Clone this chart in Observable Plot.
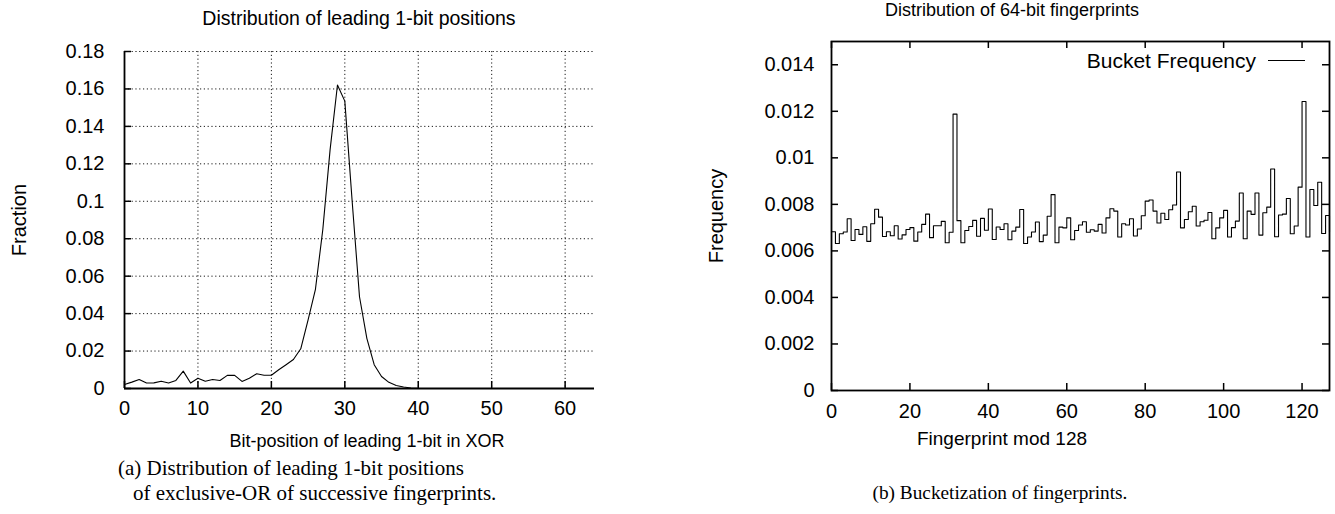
<!DOCTYPE html>
<html>
<head>
<meta charset="utf-8">
<script src="https://cdn.jsdelivr.net/npm/d3@7"></script>
<script src="https://cdn.jsdelivr.net/npm/@observablehq/plot@0.6"></script>
<style>
  html, body { margin: 0; padding: 0; background: #fff; }
  #page { position: relative; width: 1335px; height: 514px; overflow: hidden; background: #fff; }
  .abs { position: absolute; white-space: nowrap; line-height: 1; color: #000; }
  .sans { font-family: "Liberation Sans", Arial, sans-serif; font-size: 20px; }
  .serif { font-family: "Liberation Serif", "Times New Roman", serif; font-size: 21px; }
  .c { transform: translate(-50%, -50%); }
  .rot { transform: translate(-50%, -50%) rotate(-90deg); }
  .plotbox { position: absolute; }
</style>
</head>
<body>
<div id="page"></div>
<script>
// ---------- Data: left chart (leading 1-bit position, index = bit position 0..63) ----------
const leadingFractions = [
  0.0021, 0.0034, 0.0048, 0.0029, 0.0030, 0.0039, 0.0029, 0.0043, 0.0093, 0.0029,
  0.0055, 0.0039, 0.0048, 0.0043, 0.0070, 0.0070, 0.0038, 0.0055, 0.0079, 0.0071,
  0.0071, 0.0100, 0.0127, 0.0155, 0.0212, 0.0366, 0.0530, 0.0848, 0.1277, 0.1621,
  0.1535, 0.1000, 0.0490, 0.0268, 0.0127, 0.0064, 0.0033, 0.0016, 0.0008, 0.0003,
  0.0001, 0, 0, 0, 0, 0, 0, 0, 0, 0,
  0, 0, 0, 0, 0, 0, 0, 0, 0, 0,
  0, 0, 0, 0
];
const leftXTicks = [0, 10, 20, 30, 40, 50, 60];
const leftXTickLabels = ["0", "10", "20", "30", "40", "50", "60"];
const leftYTicks = [0, 0.02, 0.04, 0.06, 0.08, 0.1, 0.12, 0.14, 0.16, 0.18];
const leftYTickLabels = ["0", "0.02", "0.04", "0.06", "0.08", "0.1", "0.12", "0.14", "0.16", "0.18"];

// ---------- Data: right chart (bucket frequency, index = fingerprint mod 128) ----------
const bucketFrequency = [
  0.00682, 0.00632, 0.00674, 0.00681, 0.00738, 0.00645, 0.00692, 0.00671, 0.00704, 0.00641,
  0.00717, 0.00779, 0.00745, 0.00662, 0.00682, 0.00665, 0.00708, 0.00651, 0.00669, 0.00692,
  0.00700, 0.00642, 0.00681, 0.00714, 0.00758, 0.00657, 0.00708, 0.00708, 0.00727, 0.00635,
  0.00680, 0.01188, 0.00730, 0.00635, 0.00688, 0.00705, 0.00731, 0.00663, 0.00740, 0.00689,
  0.00780, 0.00649, 0.00703, 0.00692, 0.00717, 0.00648, 0.00685, 0.00702, 0.00778, 0.00632,
  0.00660, 0.00681, 0.00724, 0.00640, 0.00668, 0.00749, 0.00842, 0.00635, 0.00702, 0.00699,
  0.00742, 0.00648, 0.00688, 0.00711, 0.00725, 0.00680, 0.00691, 0.00685, 0.00714, 0.00677,
  0.00742, 0.00781, 0.00771, 0.00660, 0.00717, 0.00711, 0.00738, 0.00664, 0.00694, 0.00751,
  0.00814, 0.00819, 0.00771, 0.00720, 0.00762, 0.00735, 0.00777, 0.00797, 0.00939, 0.00699,
  0.00735, 0.00768, 0.00792, 0.00707, 0.00725, 0.00732, 0.00765, 0.00652, 0.00699, 0.00742,
  0.00774, 0.00660, 0.00700, 0.00728, 0.00849, 0.00652, 0.00771, 0.00757, 0.00849, 0.00668,
  0.00764, 0.00788, 0.00952, 0.00661, 0.00754, 0.00758, 0.00825, 0.00674, 0.00707, 0.00874,
  0.01242, 0.00660, 0.00864, 0.00795, 0.00895, 0.00675, 0.00752, 0.00680
];
const rightXTicks = [0, 20, 40, 60, 80, 100, 120];
const rightXTickLabels = ["0", "20", "40", "60", "80", "100", "120"];
const rightYTicks = [0, 0.002, 0.004, 0.006, 0.008, 0.01, 0.012, 0.014];
const rightYTickLabels = ["0", "0.002", "0.004", "0.006", "0.008", "0.01", "0.012", "0.014"];

// ---------- Text ----------
const leftTitle = "Distribution of leading 1-bit positions";
const leftXLabel = "Bit-position of leading 1-bit in XOR";
const leftYLabel = "Fraction";
const leftCaption = ["(a) Distribution of leading 1-bit positions", "of exclusive-OR of successive fingerprints."];
const rightTitle = "Distribution of 64-bit fingerprints";
const rightXLabel = "Fingerprint mod 128";
const rightYLabel = "Frequency";
const rightLegend = "Bucket Frequency";
const rightCaption = "(b) Bucketization of fingerprints.";

// ---------- Build ----------
const page = document.getElementById("page");
const FONT = "Liberation Sans, Arial, sans-serif";
const FS = 20;
const labelMap = (ticks, labels) => { const m = new Map(ticks.map((t, i) => [t, labels[i]])); return d => m.get(d) ?? ""; };
const grid = {stroke: "#000", strokeOpacity: 0.9, strokeWidth: 1, strokeDasharray: "1.2,2.6"};

// Left chart
const L = {left: 0, top: 0, width: 640, height: 430, ml: 124, mr: 46, mt: 51, mb: 42};
const LinnerW = L.width - L.ml - L.mr, LinnerH = L.height - L.mt - L.mb;
const leftData = leadingFractions.map((f, i) => ({pos: i, frac: f}));
const leftPlot = Plot.plot({
  width: L.width, height: L.height,
  marginLeft: L.ml, marginRight: L.mr, marginTop: L.mt, marginBottom: L.mb,
  x: {domain: [0, 64], axis: null},
  y: {domain: [0, 0.18], axis: null},
  style: {fontFamily: FONT, fontSize: FS + "px", color: "#000", background: "transparent", overflow: "visible"},
  marks: [
    Plot.gridX({ticks: leftXTicks.filter(d => d > 0), ...grid}),
    Plot.gridY({ticks: leftYTicks.filter(d => d > 0), ...grid}),
    Plot.tickX(leftXTicks, {x: d => d, insetTop: LinnerH - 7, stroke: "#000", strokeWidth: 1.5}),
    Plot.tickY(leftYTicks, {y: d => d, insetRight: LinnerW - 7, stroke: "#000", strokeWidth: 1.5}),
    Plot.axisX({ticks: leftXTicks, tickSize: 0, tickPadding: 12, tickFormat: labelMap(leftXTicks, leftXTickLabels), label: null, fontSize: FS, fill: "#000"}),
    Plot.axisY({ticks: leftYTicks, tickSize: 0, tickPadding: 20, tickFormat: labelMap(leftYTicks, leftYTickLabels), label: null, fontSize: FS, fill: "#000"}),
    Plot.ruleX([0], {stroke: "#000", strokeWidth: 1.8}),
    Plot.ruleY([0], {stroke: "#000", strokeWidth: 1.8}),
    Plot.line(leftData, {x: "pos", y: "frac", stroke: "#000", strokeWidth: 1.1})
  ]
});
leftPlot.classList.add("plotbox");
leftPlot.style.left = L.left + "px"; leftPlot.style.top = L.top + "px";
page.appendChild(leftPlot);

// Right chart
const R = {left: 680, top: 0, width: 655, height: 430, ml: 151, mr: 6, mt: 41, mb: 40};
const RinnerW = R.width - R.ml - R.mr, RinnerH = R.height - R.mt - R.mb;
const rightData = bucketFrequency.map((f, i) => ({bucket: i, freq: f}));
const rightPlot = Plot.plot({
  width: R.width, height: R.height,
  marginLeft: R.ml, marginRight: R.mr, marginTop: R.mt, marginBottom: R.mb,
  x: {domain: [0, 127], axis: null},
  y: {domain: [0, 0.015], axis: null},
  style: {fontFamily: FONT, fontSize: FS + "px", color: "#000", background: "transparent", overflow: "visible"},
  marks: [
    Plot.line(rightData, {x: "bucket", y: "freq", curve: "step-after", stroke: "#000", strokeWidth: 1.1}),
    Plot.tickX(rightXTicks, {x: d => d, insetTop: RinnerH - 7, stroke: "#000", strokeWidth: 1.5}),
    Plot.tickX(rightXTicks, {x: d => d, insetBottom: RinnerH - 7, stroke: "#000", strokeWidth: 1.5}),
    Plot.tickY(rightYTicks, {y: d => d, insetRight: RinnerW - 7, stroke: "#000", strokeWidth: 1.5}),
    Plot.tickY(rightYTicks, {y: d => d, insetLeft: RinnerW - 7, stroke: "#000", strokeWidth: 1.5}),
    Plot.axisX({ticks: rightXTicks, tickSize: 0, tickPadding: 13, tickFormat: labelMap(rightXTicks, rightXTickLabels), label: null, fontSize: FS, fill: "#000"}),
    Plot.axisY({ticks: rightYTicks, tickSize: 0, tickPadding: 17, tickFormat: labelMap(rightYTicks, rightYTickLabels), label: null, fontSize: FS, fill: "#000"}),
    Plot.frame({stroke: "#000", strokeWidth: 1.8})
  ]
});
rightPlot.classList.add("plotbox");
rightPlot.style.left = R.left + "px"; rightPlot.style.top = R.top + "px";
page.appendChild(rightPlot);

// Text helpers
function addText(txt, cls, x, y, extra) {
  const d = document.createElement("div");
  d.className = "abs " + cls;
  d.textContent = txt;
  d.style.left = x + "px"; d.style.top = y + "px";
  if (extra) Object.assign(d.style, extra);
  page.appendChild(d);
  return d;
}
const leftCx = L.left + L.ml + LinnerW / 2;
addText(leftTitle, "sans c", leftCx, 19, {fontSize: "19.5px"});
addText(leftXLabel, "sans c", 367, 441, {fontSize: "18px"});
addText(leftYLabel, "sans rot", 19, 220);
addText(leftCaption[0], "serif", 118, 458);
addText(leftCaption[1], "serif", 133, 483);

addText(rightTitle, "sans c", 1012, 10, {fontSize: "18px"});
addText(rightXLabel, "sans c", 1002, 438, {fontSize: "19px"});
addText(rightYLabel, "sans rot", 716, 216);
addText(rightCaption, "serif c", 1000, 493, {fontSize: "19.3px"});

// Legend (text + line sample)
addText(rightLegend, "sans", 0, 50, {right: (1335 - 1256) + "px", left: "auto", fontSize: "21px"});
const sample = document.createElement("div");
sample.className = "abs";
Object.assign(sample.style, {left: "1268px", top: "60px", width: "37px", height: "0", borderTop: "1.1px solid #000"});
page.appendChild(sample);
</script>
</body>
</html>
